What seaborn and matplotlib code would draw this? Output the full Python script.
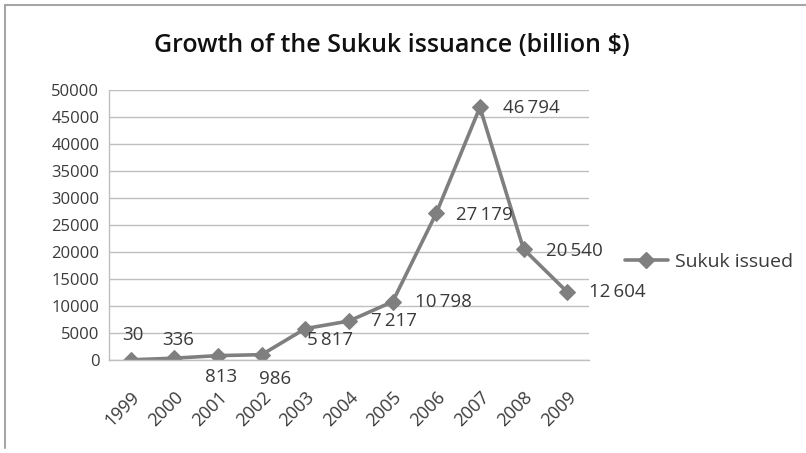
import matplotlib
matplotlib.use("Agg")
import matplotlib.pyplot as plt
import seaborn as sns
import numpy as np
import pandas as pd
from matplotlib.lines import Line2D

# Data
years = ['1999', '2000', '2001', '2002', '2003', '2004', '2005', '2006', '2007', '2008', '2009']
sukuk = [30, 336, 813, 986, 5817, 7217, 10798, 27179, 46794, 20540, 12604]
labels = ['30', '336', '813', '986', '5\u2009817', '7\u2009217', '10\u2009798',
          '27\u2009179', '46\u2009794', '20\u2009540', '12\u2009604']
# label offsets in pixels (dx, dy) and horizontal alignment
offsets = [(2, 25, 'center'), (4, 18, 'center'), (3, -21, 'center'), (13, -24, 'center'),
           (2, -11, 'left'), (22, 0, 'left'), (22, 0, 'left'), (20, -2, 'left'),
           (23, -1, 'left'), (22, -2, 'left'), (22, 0, 'left')]

df = pd.DataFrame({'pos': np.arange(len(years)), 'value': sukuk})

sns.set_style('white')
plt.rcParams['font.family'] = ['Open Sans', 'DejaVu Sans']
grey = '#7f7f7f'
txt = '#3a3a3a'

fig = plt.figure(figsize=(8.06, 4.53), dpi=100)
ax = fig.add_axes([109 / 806, 1 - 360 / 453, 480 / 806, 270 / 453])

sns.lineplot(data=df, x='pos', y='value', ax=ax, color=grey, lw=2.6,
             marker='D', markersize=8, markeredgecolor=grey, markerfacecolor=grey)

for i, (v, lab) in enumerate(zip(sukuk, labels)):
    dx, dy, ha = offsets[i]
    ax.annotate(lab, (i, v), xytext=(dx, dy), textcoords='offset pixels',
                ha=ha, va='center', fontsize=13.5, color=txt)

ax.set_xlim(-0.5, len(years) - 0.5)
ax.set_ylim(0, 50000)
ax.set_yticks(np.arange(0, 50001, 5000))
ax.yaxis.grid(True, color='#bfbfbf', lw=1)
ax.tick_params(axis='y', length=6, color='#bfbfbf', labelsize=12, labelcolor=txt, pad=1)

# boundary ticks (major, no labels) and centred labels (minor)
ax.set_xticks(np.arange(-0.5, len(years) + 0.5, 1))
ax.set_xticklabels([])
ax.set_xticks(np.arange(len(years)), minor=True)
ax.set_xticklabels(years, minor=True, rotation=45, ha='right', rotation_mode='anchor')
ax.tick_params(axis='x', which='major', length=6, color='#bfbfbf', direction='out')
ax.tick_params(axis='x', which='minor', length=0, labelsize=13, labelcolor=txt, pad=20)
ax.set_xlabel('')
ax.set_ylabel('')
for s in ['top', 'right']:
    ax.spines[s].set_visible(False)
for s in ['left', 'bottom']:
    ax.spines[s].set_color('#bfbfbf')
    ax.spines[s].set_linewidth(1)

fig.text(392 / 806, 1 - 45 / 453, 'Growth of the Sukuk issuance (billion $)',
         ha='center', va='center', fontsize=18, fontweight='semibold', color='#111111')

handle = Line2D([], [], color=grey, lw=2.6, marker='D', markersize=8)
fig.legend([handle], ['Sukuk issued'], loc='center left',
           bbox_to_anchor=(625 / 806, 1 - 262 / 453), frameon=False,
           borderpad=0, borderaxespad=0, handlelength=2.2, handletextpad=0.35,
           fontsize=14, labelcolor=txt)

# chart border (left and top visible)
fig.add_artist(Line2D([5 / 806, 5 / 806], [1 - 448 / 453, 1 - 5 / 453], color='#a6a6a6', lw=1.5))
fig.add_artist(Line2D([5 / 806, 1], [1 - 5 / 453, 1 - 5 / 453], color='#a6a6a6', lw=1.5))

fig.savefig('out.png', dpi=100)
